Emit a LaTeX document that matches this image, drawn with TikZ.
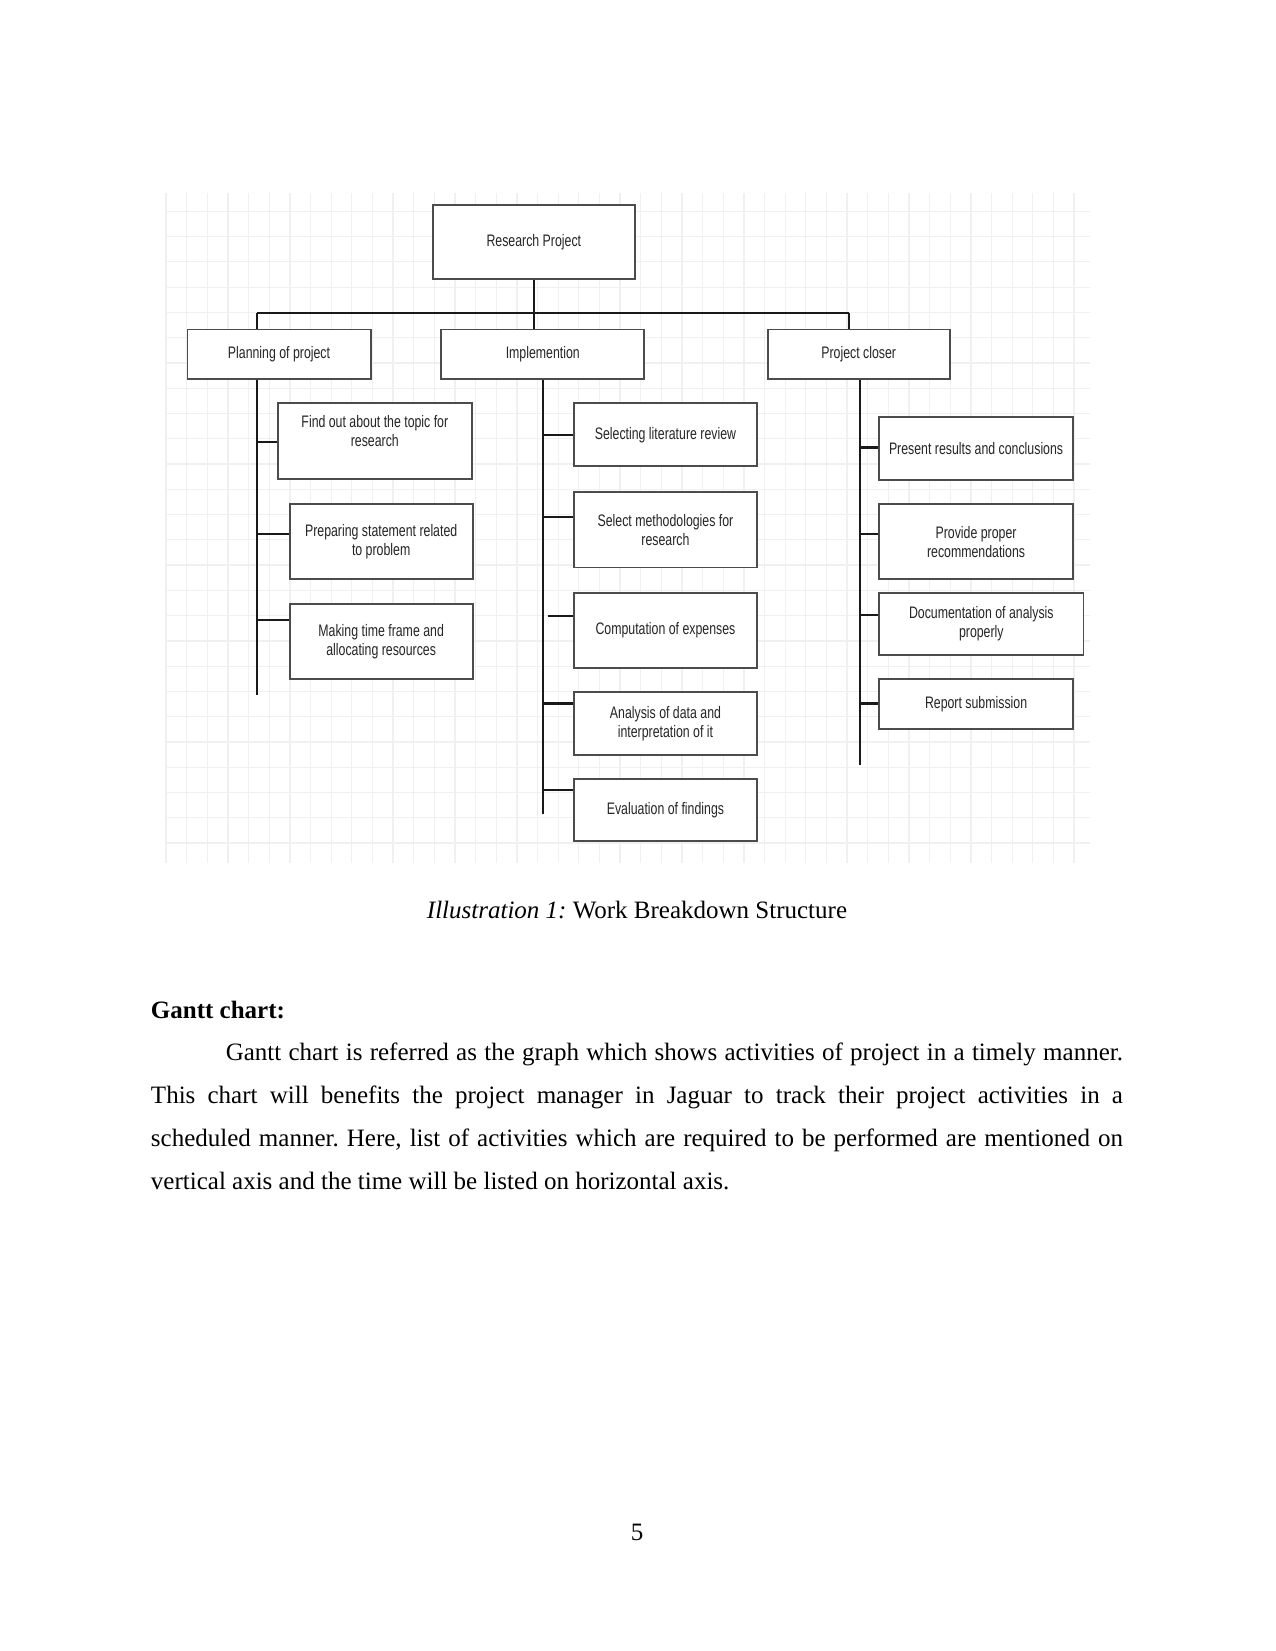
\documentclass[tikz,border=0pt]{standalone}
\usepackage{fontspec}
\setmainfont{Liberation Serif}
\newfontfamily\wbsfont[FakeStretch=0.74]{Liberation Sans}
\usepackage{tikz}
\frenchspacing

\begin{document}
\begin{tikzpicture}[x=0.50537pt, y=-0.50537pt,
    task/.style={draw=black!70, line width=0.9pt, fill=white, align=center, inner sep=2pt,
      font=\wbsfont\fontsize{8}{9.1}\selectfont, text=black!85},
    link/.style={line width=1.1pt, black!90},
    gridline/.style={line width=0.6pt, black!6},
    body/.style={inner sep=0pt, font=\fontsize{12}{20.7}\selectfont}]

    \useasboundingbox (0,0) rectangle (1211,1568);
    \fill[white] (0,0) rectangle (1211,1568);

    % grid paper behind the chart
    \foreach \gx in {0,...,44}
      \draw[gridline] (157.7+\gx*19.6,183) -- (157.7+\gx*19.6,820);
    \foreach \gy in {0,...,25}
      \draw[gridline] (158,200.7+\gy*24) -- (1035,200.7+\gy*24);

    % top levels
    \node[task, minimum width=97pt, minimum height=35.4pt] (root) at (507,230) {Research Project};
    \node[task, minimum width=87.9pt, minimum height=23.8pt] (plan) at (265,336.5) {Planning of project};
    \node[task, minimum width=97.5pt, minimum height=23.8pt] (impl) at (515.5,336.5) {Implemention};
    \node[task, minimum width=87.4pt, minimum height=23.8pt] (close) at (815.5,336.5) {Project closer};

    % planning
    \node[task, minimum width=93pt, minimum height=36.4pt, text depth=10pt] (find) at (356,419) {Find out about the topic for\\research};
    \node[task, minimum width=87.9pt, minimum height=35.9pt] (prep) at (362,514.5) {Preparing statement related\\to problem};
    \node[task, minimum width=87.9pt, minimum height=35.9pt] (mak) at (362,609.5) {Making time frame and\\allocating resources};

    % implementation
    \node[task, minimum width=87.9pt, minimum height=30.3pt] (lit) at (632,413) {Selecting literature review};
    \node[task, minimum width=87.9pt, minimum height=36.4pt] (meth) at (632,503) {Select methodologies for\\research};
    \node[task, minimum width=87.9pt, minimum height=35.9pt] (cost) at (632,598.5) {Computation of expenses};
    \node[task, minimum width=87.9pt, minimum height=30.3pt] (anal) at (632,687) {Analysis of data and\\interpretation of it};
    \node[task, minimum width=87.9pt, minimum height=29.8pt] (eval) at (632,769.5) {Evaluation of findings};

    % closing
    \node[task, minimum width=93pt, minimum height=30.3pt] (pres) at (927,426) {Present results and conclusions};
    \node[task, minimum width=93pt, minimum height=35.9pt] (prov) at (927,514.5) {Provide proper\\recommendations};
    \node[task, minimum width=98pt, minimum height=29.8pt] (doc) at (932,592.5) {Documentation of analysis\\properly};
    \node[task, minimum width=93pt, minimum height=23.8pt] (rep) at (927,668.5) {Report submission};

    % connectors
    \coordinate (busl) at (244,297);
    \coordinate (busm) at (507,297);
    \coordinate (busr) at (806,297);
    \coordinate (plend) at (244,660);
    \coordinate (imend) at (516,773);
    \coordinate (clend) at (817,727);

    \draw[link] (root.south) -- (busm);
    \draw[link] (busl) -- (busr);
    \draw[link] (busl) -- (busl |- plan.north);
    \draw[link] (busm) -- (busm |- impl.north);
    \draw[link] (busr) -- (busr |- close.north);

    \draw[link] (plend |- plan.south) -- (plend);
    \draw[link] (imend |- impl.south) -- (imend);
    \draw[link] (clend |- close.south) -- (clend);

    \foreach \b/\s in {find/420, prep/507, mak/589}
      \draw[link] (plend |- 0,\s) -- (\b.west |- 0,\s);
    \foreach \b/\s in {lit/413, meth/491, anal/668, eval/750}
      \draw[link] (imend |- 0,\s) -- (\b.west |- 0,\s);
    \draw[link] (cost.west |- 0,585) -- ++(-24,0);
    \foreach \b/\s in {pres/425, prov/507, doc/584, rep/668}
      \draw[link] (clend |- 0,\s) -- (\b.west |- 0,\s);

    % page text
    \node[body, anchor=base] (cap) at (605,872) {\textit{Illustration 1:} Work Breakdown Structure};
    \node[body, anchor=base west] (head) at (143,967) {\textbf{Gantt chart:}};
    \node[body, anchor=north west, text width=466.5pt, align=justify] (para) at (143,987)
      {\rule{0pt}{10pt}\hspace{35.9pt}Gantt chart is referred as the graph which shows activities of project in a timely manner.\linebreak
       This chart will benefits the project manager in Jaguar to track their project activities in a\linebreak
       scheduled manner. Here, list of activities which are required to be performed are mentioned on\linebreak
       vertical axis and the time will be listed on horizontal axis.};
    \node[body, anchor=base] (pnum) at (605,1463) {5};
\end{tikzpicture}
\end{document}
